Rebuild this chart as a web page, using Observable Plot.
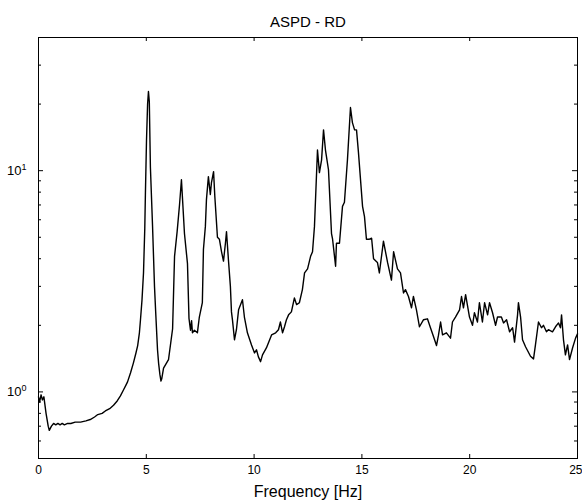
<!DOCTYPE html>
<html>
<head>
<meta charset="utf-8">
<script src="https://cdn.jsdelivr.net/npm/d3@7"></script>
<script src="https://cdn.jsdelivr.net/npm/@observablehq/plot@0.6"></script>
<style>
  html, body { margin: 0; padding: 0; background: #fff; }
</style>
</head>
<body>
<div id="chart"></div>
<script>
const titleText = "ASPD - RD";
const xLabel = "Frequency [Hz]";
const xTicks = [0, 5, 10, 15, 20, 25];
const yMajor = [1, 10];
const yMinor = [0.5, 0.6, 0.7, 0.8, 0.9, 2, 3, 4, 5, 6, 7, 8, 9, 20, 30, 40];

const freq = [
  0.00, 0.05, 0.12, 0.18, 0.25, 0.35, 0.45, 0.50, 0.60, 0.70,
  0.80, 0.90, 1.00, 1.10, 1.20, 1.35, 1.50, 1.70, 1.95, 2.20,
  2.40, 2.60, 2.75, 2.95, 3.10, 3.30, 3.48, 3.65, 3.80, 3.94,
  4.05, 4.13, 4.27, 4.40, 4.52, 4.60, 4.68, 4.73, 4.80, 4.87,
  4.93, 4.96, 5.01, 5.06, 5.10, 5.14, 5.19, 5.29, 5.38, 5.43,
  5.52, 5.57, 5.63, 5.68, 5.72, 5.80, 6.03, 6.22, 6.31, 6.43,
  6.54, 6.63, 6.77, 6.91, 6.98, 7.05, 7.10, 7.14, 7.23, 7.37,
  7.46, 7.60, 7.65, 7.74, 7.79, 7.88, 7.97, 8.02, 8.12, 8.18,
  8.30, 8.39, 8.49, 8.58, 8.67, 8.72, 8.81, 8.90, 8.95, 9.00,
  9.09, 9.18, 9.28, 9.46, 9.55, 9.69, 9.88, 10.02, 10.11, 10.20,
  10.30, 10.39, 10.57, 10.81, 11.00, 11.13, 11.22, 11.32, 11.41, 11.50,
  11.60, 11.73, 11.87, 11.97, 12.10, 12.24, 12.34, 12.48, 12.62, 12.71,
  12.80, 12.94, 13.03, 13.13, 13.22, 13.31, 13.45, 13.59, 13.64, 13.78,
  13.82, 13.96, 14.10, 14.19, 14.33, 14.47, 14.56, 14.66, 14.75, 14.84,
  15.03, 15.12, 15.21, 15.35, 15.45, 15.54, 15.72, 15.81, 16.00, 16.19,
  16.37, 16.47, 16.65, 16.79, 16.93, 17.02, 17.16, 17.30, 17.39, 17.53,
  17.67, 17.86, 18.04, 18.18, 18.32, 18.46, 18.55, 18.65, 18.74, 18.92,
  19.11, 19.20, 19.34, 19.53, 19.62, 19.71, 19.81, 19.90, 19.99, 20.13,
  20.22, 20.36, 20.45, 20.59, 20.69, 20.83, 20.92, 21.06, 21.20, 21.29,
  21.47, 21.57, 21.71, 21.85, 21.99, 22.08, 22.22, 22.26, 22.36, 22.45,
  22.59, 22.82, 22.96, 23.05, 23.19, 23.33, 23.42, 23.56, 23.65, 23.84,
  23.98, 24.12, 24.21, 24.26, 24.35, 24.44, 24.54, 24.63, 24.77, 24.91,
  25.00
];

const psd = [
  0.95, 0.90, 0.97, 0.92, 0.95, 0.80, 0.70, 0.67, 0.70, 0.72,
  0.71, 0.72, 0.71, 0.72, 0.71, 0.72, 0.72, 0.73, 0.73, 0.74,
  0.75, 0.77, 0.79, 0.80, 0.82, 0.84, 0.87, 0.91, 0.96, 1.02,
  1.07, 1.11, 1.22, 1.35, 1.50, 1.62, 1.85, 2.12, 2.60, 3.45,
  5.50, 8.00, 13.8, 20.0, 22.8, 20.5, 10.4, 5.6, 3.0, 2.35,
  1.55, 1.35, 1.20, 1.12, 1.15, 1.28, 1.40, 1.93, 4.1, 5.3,
  7.0, 9.1, 5.2, 3.8, 2.15, 1.90, 2.10, 1.85, 1.90, 1.85,
  2.18, 2.53, 4.4, 5.6, 7.4, 9.4, 7.8, 8.8, 9.9, 7.6,
  5.0, 4.9, 4.3, 3.9, 4.7, 5.3, 3.95, 3.0, 2.3, 2.1,
  1.72, 1.91, 2.35, 2.61, 2.18, 1.85, 1.63, 1.50, 1.55, 1.44,
  1.37, 1.47, 1.58, 1.81, 1.85, 1.91, 2.07, 1.85, 1.97, 2.12,
  2.23, 2.30, 2.66, 2.48, 2.53, 2.90, 3.45, 3.60, 4.10, 4.30,
  5.6, 12.4, 9.8, 11.2, 15.3, 12.4, 10.1, 5.2, 4.9, 3.7,
  4.7, 4.7, 6.9, 7.2, 11.2, 19.3, 16.5, 15.3, 15.3, 12.1,
  6.9, 6.2, 4.9, 4.9, 4.95, 4.0, 3.85, 3.45, 4.8, 3.85,
  3.2, 4.3, 3.6, 3.45, 2.8, 2.9, 2.7, 2.4, 2.7, 2.35,
  1.97, 2.12, 2.14, 1.95, 1.78, 1.62, 1.80, 2.07, 1.81, 1.85,
  1.75, 2.07, 2.18, 2.35, 2.70, 2.40, 2.75, 2.45, 2.18, 2.00,
  2.28, 2.07, 2.53, 2.07, 2.53, 2.23, 2.53, 2.28, 2.00, 2.18,
  2.18, 2.05, 2.12, 1.87, 1.95, 1.68, 2.23, 2.53, 2.18, 1.72,
  1.60, 1.45, 1.41, 1.63, 2.07, 1.95, 2.00, 1.87, 1.91, 1.87,
  1.97, 2.05, 1.95, 2.23, 1.72, 1.47, 1.63, 1.40, 1.58, 1.75,
  1.83
];

const data = freq.map((f, i) => ({f, v: psd[i]}));

const W = 582, H = 500;
const mL = 38, mR = 5, mT = 37, mB = 42;
const fw = W - mL - mR, fh = H - mT - mB;
const xTicksInner = xTicks.slice(0, -1);
const xTickLast = xTicks.slice(-1);

const chart = Plot.plot({
  width: W,
  height: H,
  marginLeft: mL,
  marginRight: mR,
  marginTop: mT,
  marginBottom: mB,
  style: {fontFamily: "'Liberation Sans', Arial, Helvetica, sans-serif", color: "#000", background: "#fff"},
  x: {domain: [0, 25]},
  y: {type: "log", domain: [0.5, 40]},
  marks: [
    Plot.frame({stroke: "#000", strokeWidth: 1}),
    // inward ticks, bottom and top
    Plot.tickX(xTicks, {x: d => d, insetTop: fh - 4, stroke: "#000"}),
    Plot.tickX(xTicks, {x: d => d, insetBottom: fh - 4, stroke: "#000"}),
    // inward ticks, left and right
    Plot.tickY(yMajor, {y: d => d, insetRight: fw - 5, stroke: "#000"}),
    Plot.tickY(yMajor, {y: d => d, insetLeft: fw - 5, stroke: "#000"}),
    Plot.tickY(yMinor, {y: d => d, insetRight: fw - 3, stroke: "#000"}),
    Plot.tickY(yMinor, {y: d => d, insetLeft: fw - 3, stroke: "#000"}),
    Plot.axisX(xTicksInner, {tickSize: 0, tickPadding: 7, fontSize: 12, tickFormat: d => String(d), label: null}),
    Plot.axisX(xTickLast, {tickSize: 0, tickPadding: 7, fontSize: 12, tickFormat: d => String(d), textAnchor: "end", dx: 5, label: null}),
    Plot.axisY(yMajor, {tickSize: 0, tickPadding: 12, fontSize: 13, tickFormat: d => "10^" + Math.round(Math.log10(d)), label: null}),
    Plot.line(data, {x: "f", y: "v", stroke: "#000", strokeWidth: 1.4}),
    Plot.text([titleText], {text: d => d, frameAnchor: "top", dy: -21, fontSize: 15}),
    Plot.text([xLabel], {text: d => d, frameAnchor: "bottom", dy: 33, fontSize: 16, lineAnchor: "middle"})
  ]
});

// superscript exponents on the y tick labels
chart.querySelectorAll('g[aria-label="y-axis tick label"] text').forEach(t => {
  const s = t.textContent;
  const m = s.match(/^10\^(-?\d+)$/);
  if (!m) return;
  t.textContent = "";
  const base = document.createElementNS("http://www.w3.org/2000/svg", "tspan");
  base.textContent = "10";
  const sup = document.createElementNS("http://www.w3.org/2000/svg", "tspan");
  sup.textContent = m[1];
  sup.setAttribute("dy", "-0.55em");
  sup.setAttribute("font-size", "9");
  t.appendChild(base);
  t.appendChild(sup);
});

document.getElementById("chart").appendChild(chart);
</script>
</body>
</html>
